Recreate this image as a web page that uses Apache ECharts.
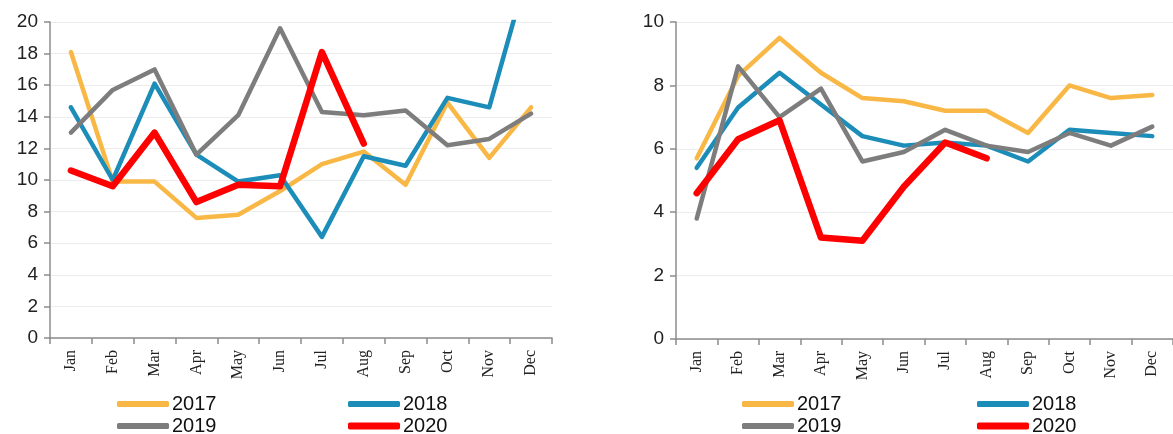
<!DOCTYPE html>
<html>
<head>
<meta charset="utf-8">
<script src="https://cdn.jsdelivr.net/npm/echarts@6/dist/echarts.min.js"></script>
<style>
  html, body { margin: 0; padding: 0; background: #fff; }
  #chart { width: 1173px; height: 434px; }
</style>
</head>
<body>
<div id="chart"></div>
<script>
// Monthly categories shared by both panels
const months = ['Jan', 'Feb', 'Mar', 'Apr', 'May', 'Jun', 'Jul', 'Aug', 'Sep', 'Oct', 'Nov', 'Dec'];

// Left panel values
const left2017 = [18.1, 9.9, 9.9, 7.6, 7.8, 9.3, 11.0, 11.8, 9.7, 14.9, 11.4, 14.6];
const left2018 = [14.6, 10.0, 16.1, 11.6, 9.9, 10.3, 6.4, 11.5, 10.9, 15.2, 14.6, 24.0];
const left2019 = [13.0, 15.7, 17.0, 11.6, 14.1, 19.6, 14.3, 14.1, 14.4, 12.2, 12.6, 14.2];
const left2020 = [10.6, 9.6, 13.0, 8.6, 9.7, 9.6, 18.1, 12.3];

// Right panel values
const right2017 = [5.7, 8.3, 9.5, 8.4, 7.6, 7.5, 7.2, 7.2, 6.5, 8.0, 7.6, 7.7];
const right2018 = [5.4, 7.3, 8.4, 7.4, 6.4, 6.1, 6.2, 6.1, 5.6, 6.6, 6.5, 6.4];
const right2019 = [3.8, 8.6, 7.0, 7.9, 5.6, 5.9, 6.6, 6.1, 5.9, 6.5, 6.1, 6.7];
const right2020 = [4.6, 6.3, 6.9, 3.2, 3.1, 4.8, 6.2, 5.7];

// Y-axis scales
const leftTicks = { min: 0, max: 20, interval: 2 };
const rightTicks = { min: 0, max: 10, interval: 2 };

const colors = { '2017': '#F9B846', '2018': '#1B8DB8', '2019': '#7D7D7D', '2020': '#FF0000' };
const widths = { '2017': 4.5, '2018': 4.5, '2019': 4.5, '2020': 6.5 };

const axisGray = '#8C8C8C';

function xAxisFor(gridIndex) {
  return {
    type: 'category',
    gridIndex,
    data: months,
    boundaryGap: true,
    axisLine: { lineStyle: { color: axisGray, width: 1.5 } },
    axisTick: { show: true, length: 6, lineStyle: { color: axisGray, width: 1.5 } },
    axisLabel: {
      rotate: 90,
      margin: 12,
      fontFamily: 'Liberation Serif',
      fontSize: 16,
      color: '#222'
    },
    splitLine: { show: false }
  };
}

function yAxisFor(gridIndex, ticks) {
  return {
    type: 'value',
    gridIndex,
    min: ticks.min,
    max: ticks.max,
    interval: ticks.interval,
    axisLine: { show: true, lineStyle: { color: axisGray, width: 1.5 } },
    axisTick: { show: true, length: 6, lineStyle: { color: axisGray, width: 1.5 } },
    axisLabel: {
      margin: 12,
      fontFamily: 'Liberation Sans',
      fontSize: 19,
      color: '#222'
    },
    splitLine: { show: true, lineStyle: { color: '#ECECEC', width: 1 } }
  };
}

function lineSeries(name, data, idx) {
  return {
    name,
    type: 'line',
    xAxisIndex: idx,
    yAxisIndex: idx,
    data,
    symbol: 'none',
    showSymbol: false,
    clip: true,
    color: colors[name],
    itemStyle: { color: colors[name] },
    lineStyle: { color: colors[name], width: widths[name], cap: 'round', join: 'round' },
    emphasis: { disabled: true },
    animation: false
  };
}

function legendItem(name, left, top) {
  return {
    data: [name],
    left,
    top,
    icon: 'roundRect',
    itemWidth: 52,
    itemHeight: name === '2020' ? 7 : 6,
    itemGap: 0,
    selectedMode: false,
    textStyle: { fontFamily: 'Liberation Sans', fontSize: 20, color: '#111', padding: [0, 0, 0, -2] }
  };
}

const chart = echarts.init(document.getElementById('chart'), null, { renderer: 'canvas' });

chart.setOption({
  backgroundColor: '#fff',
  animation: false,
  grid: [
    { left: 50, right: 621, top: 22, bottom: 96 },
    { left: 676, right: -7, top: 22, bottom: 95 }
  ],
  xAxis: [xAxisFor(0), xAxisFor(1)],
  yAxis: [yAxisFor(0, leftTicks), yAxisFor(1, rightTicks)],
  legend: [
    legendItem('2017', 112, 389),
    legendItem('2018', 343, 389),
    legendItem('2019', 112, 411),
    legendItem('2020', 343, 411),
    legendItem('2017', 737, 389),
    legendItem('2018', 972, 389),
    legendItem('2019', 737, 411),
    legendItem('2020', 972, 411)
  ],
  series: [
    lineSeries('2017', left2017, 0),
    lineSeries('2018', left2018, 0),
    lineSeries('2019', left2019, 0),
    lineSeries('2020', left2020, 0),
    lineSeries('2017', right2017, 1),
    lineSeries('2018', right2018, 1),
    lineSeries('2019', right2019, 1),
    lineSeries('2020', right2020, 1)
  ]
});
</script>
</body>
</html>
